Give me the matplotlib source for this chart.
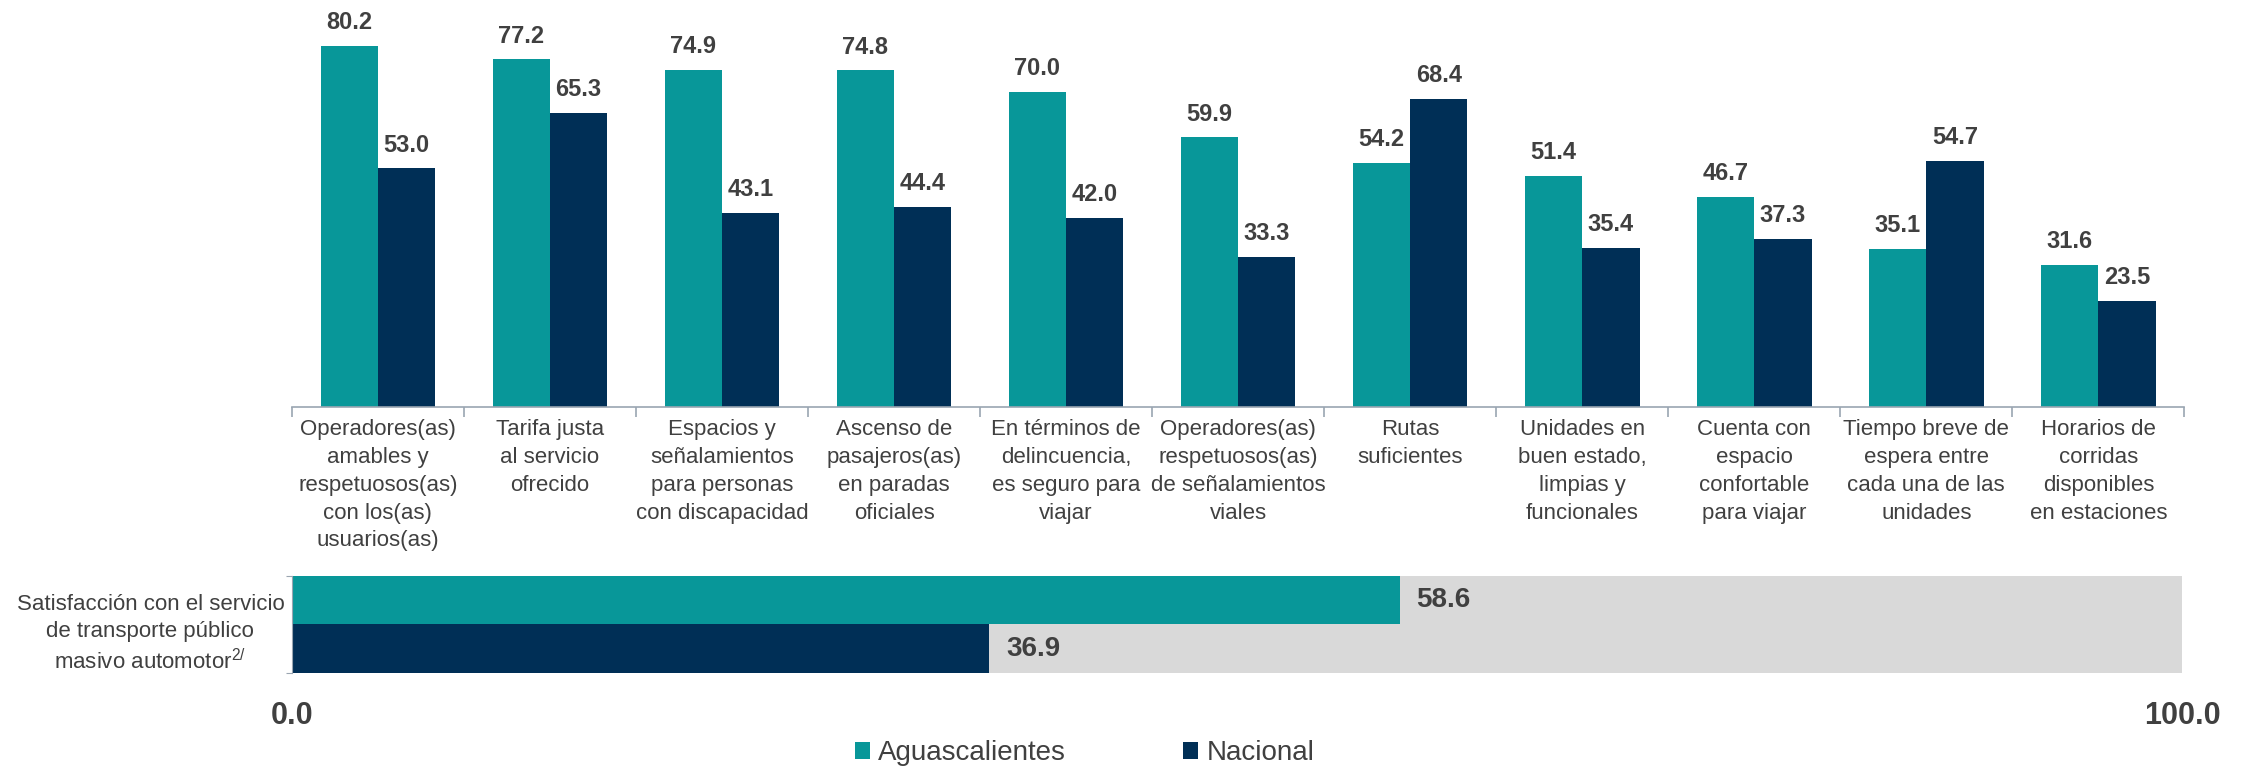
import matplotlib.pyplot as plt
import numpy as np

plt.rcParams['font.family'] = ['Liberation Sans', 'DejaVu Sans']
plt.rcParams['mathtext.default'] = 'regular'

categorias = [
    "Operadores(as)\namables y\nrespetuosos(as)\ncon los(as)\nusuarios(as)",
    "Tarifa justa\nal servicio\nofrecido",
    "Espacios y\nseñalamientos\npara personas\ncon discapacidad",
    "Ascenso de\npasajeros(as)\nen paradas\noficiales",
    "En términos de\ndelincuencia,\nes seguro para\nviajar",
    "Operadores(as)\nrespetuosos(as)\nde señalamientos\nviales",
    "Rutas\nsuficientes",
    "Unidades en\nbuen estado,\nlimpias y\nfuncionales",
    "Cuenta con\nespacio\nconfortable\npara viajar",
    "Tiempo breve de\nespera entre\ncada una de las\nunidades",
    "Horarios de\ncorridas\ndisponibles\nen estaciones",
]
aguascalientes = [80.2, 77.2, 74.9, 74.8, 70.0, 59.9, 54.2, 51.4, 46.7, 35.1, 31.6]
nacional = [53.0, 65.3, 43.1, 44.4, 42.0, 33.3, 68.4, 35.4, 37.3, 54.7, 23.5]

satisf_label = "Satisfacción con el servicio\nde transporte público\nmasivo automotor$^{2/}$"
satisf_ags = 58.6
satisf_nac = 36.9

TEAL = '#089799'
NAVY = '#002F56'
GRAY_TXT = '#404040'
AXIS = '#9AA5B1'

fig = plt.figure(figsize=(22.45, 7.67), dpi=100)

# top: grouped bars
ax = fig.add_axes([0.130, 0.4694, 0.843, 0.5306])
x = np.arange(len(categorias))
w = 0.333
b1 = ax.bar(x - w / 2, aguascalientes, w, color=TEAL, label='Aguascalientes')
b2 = ax.bar(x + w / 2, nacional, w, color=NAVY, label='Nacional')
for bars, vals in [(b1, aguascalientes), (b2, nacional)]:
    for r, v in zip(bars, vals):
        ax.text(r.get_x() + r.get_width() / 2, v + 2.6, f'{v:.1f}',
                ha='center', va='bottom', fontsize=17, fontweight='bold', color=GRAY_TXT)

ax.set_xlim(-0.5, len(categorias) - 0.5)
ax.set_ylim(0, 90.4)
ax.set_yticks([])
for s in ['top', 'right', 'left']:
    ax.spines[s].set_visible(False)
ax.spines['bottom'].set_color(AXIS)
ax.spines['bottom'].set_linewidth(1.2)
ax.set_xticks(x, categorias, fontsize=16, color=GRAY_TXT, va='top', linespacing=1.42)
ax.tick_params(axis='x', which='major', length=0, pad=9)
ax.set_xticks(np.arange(len(categorias) + 1) - 0.5, minor=True)
ax.tick_params(axis='x', which='minor', length=7, color=AXIS, width=1.2)

# bottom: satisfaction bar
ax2 = fig.add_axes([0.130, 0.1226, 0.842, 0.1265])
ax2.barh([0.5], [100], height=1.0, color='#D9D9D9')
ax2.barh([0.75], [satisf_ags], height=0.5, color=TEAL)
ax2.barh([0.25], [satisf_nac], height=0.5, color=NAVY)
ax2.text(satisf_ags + 0.9, 0.75, f'{satisf_ags:.1f}', ha='left', va='center',
         fontsize=20, fontweight='bold', color=GRAY_TXT)
ax2.text(satisf_nac + 0.9, 0.25, f'{satisf_nac:.1f}', ha='left', va='center',
         fontsize=20, fontweight='bold', color=GRAY_TXT)
ax2.set_xlim(0, 100)
ax2.set_ylim(0, 1)
for s in ['top', 'right', 'bottom']:
    ax2.spines[s].set_visible(False)
ax2.spines['left'].set_color(AXIS)
ax2.set_yticks([0, 1])
ax2.set_yticklabels([])
ax2.tick_params(axis='y', length=4, color=AXIS)
ax2.set_xticks([0, 100], ['0.0', '100.0'], fontsize=22, fontweight='bold', color=GRAY_TXT)
ax2.tick_params(axis='x', length=0, pad=20)
fig.text(0.067, 0.173, satisf_label, ha='center', va='center',
         fontsize=16, color=GRAY_TXT, linespacing=1.35)

fig.legend(handles=[b1, b2], loc='center', bbox_to_anchor=(0.483, 0.018), ncol=2,
           frameon=False, fontsize=20, handlelength=0.55, handleheight=0.55,
           columnspacing=4.2, handletextpad=0.3, labelcolor=GRAY_TXT)

fig.savefig('out.png', dpi=100)
